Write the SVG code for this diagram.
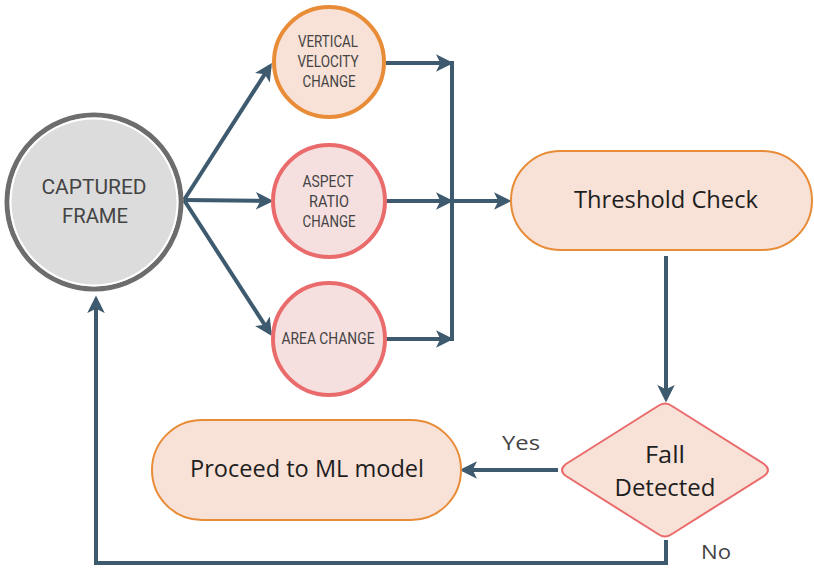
<svg xmlns="http://www.w3.org/2000/svg" width="814" height="569" viewBox="0 0 814 569">
<defs>
<marker id="ah" viewBox="0 0 10 10" refX="8" refY="5" markerWidth="4.4" markerHeight="4.4" orient="auto" markerUnits="strokeWidth">
<path d="M0,0 L10,5 L0,10 L2.5,5 Z" fill="#3e5a6e"/>
</marker>
<style>
.ln{fill:none;stroke:#3e5a6e;stroke-width:4;stroke-linejoin:miter}
.cond{font-family:Roboto,"Liberation Sans",sans-serif;fill:#444;text-anchor:middle}
.sans{font-family:"Open Sans","Noto Sans",sans-serif;fill:#1e1e1e;text-anchor:middle}
.lbl{font-family:"Open Sans","Noto Sans",sans-serif;fill:#444;font-size:20px}
</style>
</defs>
<rect width="814" height="569" fill="#ffffff"/>
<g id="connectors">
<path class="ln" d="M184,200 L270,66" marker-end="url(#ah)"/>
<path class="ln" d="M184,200 L270,201" marker-end="url(#ah)"/>
<path class="ln" d="M184,200 L270,333" marker-end="url(#ah)"/>
<path class="ln" d="M386,63 L450,63" marker-end="url(#ah)"/>
<path class="ln" d="M386,201 L450,201" marker-end="url(#ah)"/>
<path class="ln" d="M386,339 L450,339" marker-end="url(#ah)"/>
<path class="ln" d="M452,61 L452,341"/>
<path class="ln" d="M452,201 L508,201" marker-end="url(#ah)"/>
<path class="ln" d="M666,256 L666,399" marker-end="url(#ah)"/>
<path class="ln" d="M558,470 L463,470" marker-end="url(#ah)"/>
<path class="ln" d="M666,540 L666,563 L96,563 L96,299" marker-end="url(#ah)"/>
<text class="lbl" x="502" y="450" textLength="38" lengthAdjust="spacingAndGlyphs">Yes</text>
<text class="lbl" x="701" y="559" textLength="30" lengthAdjust="spacingAndGlyphs">No</text>
</g>
<g id="captured-frame">
<circle cx="94" cy="202" r="86" fill="#dcdcdc" stroke="#ffffff" stroke-width="3"/>
<circle cx="94" cy="202" r="87" fill="none" stroke="#6d6d6d" stroke-width="5"/>
<circle cx="94" cy="202" r="83.5" fill="none" stroke="#ffffff" stroke-width="2"/>
<text class="cond" x="94" y="194" font-size="21" textLength="105" lengthAdjust="spacingAndGlyphs">CAPTURED</text>
<text class="cond" x="95" y="223" font-size="21" textLength="66" lengthAdjust="spacingAndGlyphs">FRAME</text>
</g>
<g id="vertical-velocity">
<circle cx="329" cy="62" r="55" fill="#f8e1d7" stroke="#e88c37" stroke-width="4"/>
<text class="cond" x="328" y="47" font-size="16.5" textLength="60" lengthAdjust="spacingAndGlyphs">VERTICAL</text>
<text class="cond" x="328" y="67" font-size="16.5" textLength="61" lengthAdjust="spacingAndGlyphs">VELOCITY</text>
<text class="cond" x="329" y="87" font-size="16.5" textLength="53" lengthAdjust="spacingAndGlyphs">CHANGE</text>
</g>
<g id="aspect-ratio">
<circle cx="329" cy="201" r="56" fill="#f6dfdf" stroke="#ea6b6b" stroke-width="4"/>
<text class="cond" x="328" y="187" font-size="16.5" textLength="51" lengthAdjust="spacingAndGlyphs">ASPECT</text>
<text class="cond" x="329" y="207" font-size="16.5" textLength="40" lengthAdjust="spacingAndGlyphs">RATIO</text>
<text class="cond" x="329" y="227" font-size="16.5" textLength="53" lengthAdjust="spacingAndGlyphs">CHANGE</text>
</g>
<g id="area-change">
<circle cx="329" cy="339" r="56" fill="#f6dfdf" stroke="#ea6b6b" stroke-width="4"/>
<text class="cond" x="328" y="344" font-size="16.5" textLength="93" lengthAdjust="spacingAndGlyphs">AREA CHANGE</text>
</g>
<g id="threshold-check">
<rect x="511" y="151" width="301" height="99" rx="49.5" fill="#f8e1d7" stroke="#e88c37" stroke-width="2"/>
<text class="sans" x="666" y="208" font-size="23" textLength="184" lengthAdjust="spacingAndGlyphs">Threshold Check</text>
</g>
<g id="fall-detected">
<path d="M658,406 Q665,401 672,406 L764,464 Q772,470 764,476 L672,534 Q665,539 658,534 L566,476 Q558,470 566,464 Z" fill="#f8e1d7" stroke="#ea6b6b" stroke-width="2"/>
<text class="sans" x="665" y="463" font-size="23" textLength="40" lengthAdjust="spacingAndGlyphs">Fall</text>
<text class="sans" x="665" y="496" font-size="23" textLength="101" lengthAdjust="spacingAndGlyphs">Detected</text>
</g>
<g id="proceed-ml">
<rect x="152" y="420" width="309" height="100" rx="50" fill="#f8e1d7" stroke="#e88c37" stroke-width="2"/>
<text class="sans" x="307" y="477" font-size="23" textLength="234" lengthAdjust="spacingAndGlyphs">Proceed to ML model</text>
</g>
</svg>
